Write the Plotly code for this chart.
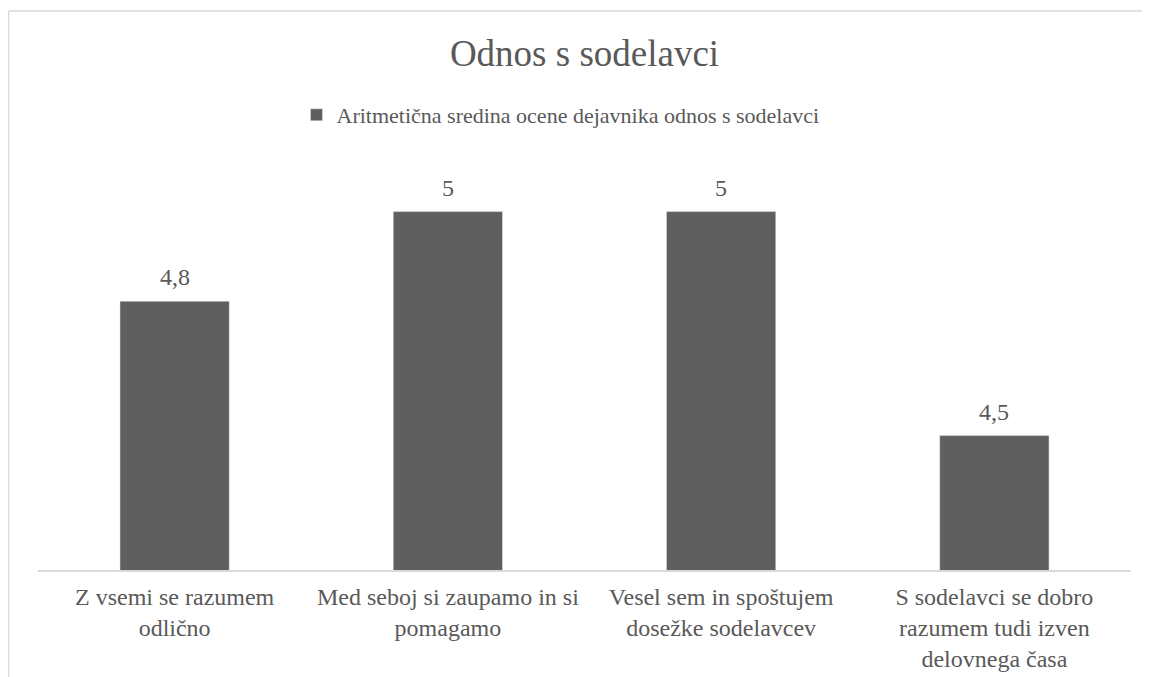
import plotly.graph_objects as go

# podatki
kategorije = [
    "Z vsemi se razumem<br>odlično",
    "Med seboj si zaupamo in si<br>pomagamo",
    "Vesel sem in spoštujem<br>dosežke sodelavcev",
    "S sodelavci se dobro<br>razumem tudi izven<br>delovnega časa",
]
vrednosti = [4.8, 5, 5, 4.5]
oznake = ["4,8", "5", "5", "4,5"]
ime_serije = "Aritmetična sredina ocene dejavnika odnos s sodelavci"
naslov = "Odnos s sodelavci"

# stran ima 8px odmika (body margin), zato je slika za toliko manjša
OFF = 8
W, H = 1150 - OFF, 677 - OFF
ml, mr, mt, mb = 30, 19, 114, 107
pisava = "Liberation Serif"
siva = "#595959"

fig = go.Figure()
fig.add_trace(go.Bar(
    x=kategorije, y=vrednosti, name=ime_serije,
    marker=dict(color="#5f5f5f"),
    showlegend=True,
))

# oznake vrednosti nad stolpci
for k, v, o in zip(kategorije, vrednosti, oznake):
    fig.add_annotation(x=k, y=v, text=o, showarrow=False, yanchor="middle",
                       yshift=24, font=dict(size=24, color=siva, family=pisava))

# okvir grafikona (levo in zgoraj)
pw = W - ml - mr
ph = H - mt - mb
xl = (0.5 - ml) / pw
yt = (H - mb - 3) / ph
fig.add_shape(type="line", xref="paper", yref="paper", x0=xl, x1=(W + 5 - ml) / pw,
              y0=yt, y1=yt, line=dict(color="#d9d9d9", width=1.5))
fig.add_shape(type="line", xref="paper", yref="paper", x0=xl, x1=xl,
              y0=yt, y1=(-mb - 5) / ph, line=dict(color="#d9d9d9", width=1.5))

fig.update_layout(
    width=W, height=H,
    margin=dict(l=ml, r=mr, t=mt, b=mb, pad=0, autoexpand=False),
    paper_bgcolor="white", plot_bgcolor="white",
    separators=", ",
    font=dict(family=pisava, color=siva, size=24),
    title=dict(text=naslov, x=0.5, xanchor="center", xref="paper",
               y=1 - 45 / H, yanchor="middle",
               font=dict(size=37, color=siva, family=pisava)),
    bargap=0.60,
    legend=dict(orientation="h", x=0.5 - 24 / pw, xanchor="center", y=1 - 107 / H,
                yanchor="middle", yref="container",
                font=dict(size=22, color=siva, family=pisava), itemwidth=30),
    xaxis=dict(showline=True, linecolor="#d9d9d9", linewidth=1.5, ticks="",
               showgrid=False, ticklabelstandoff=4,
               tickfont=dict(size=24, color=siva, family=pisava)),
    yaxis=dict(range=[4.2, 5.2], visible=False, showgrid=False, zeroline=False),
)

fig.write_html("out.html")
